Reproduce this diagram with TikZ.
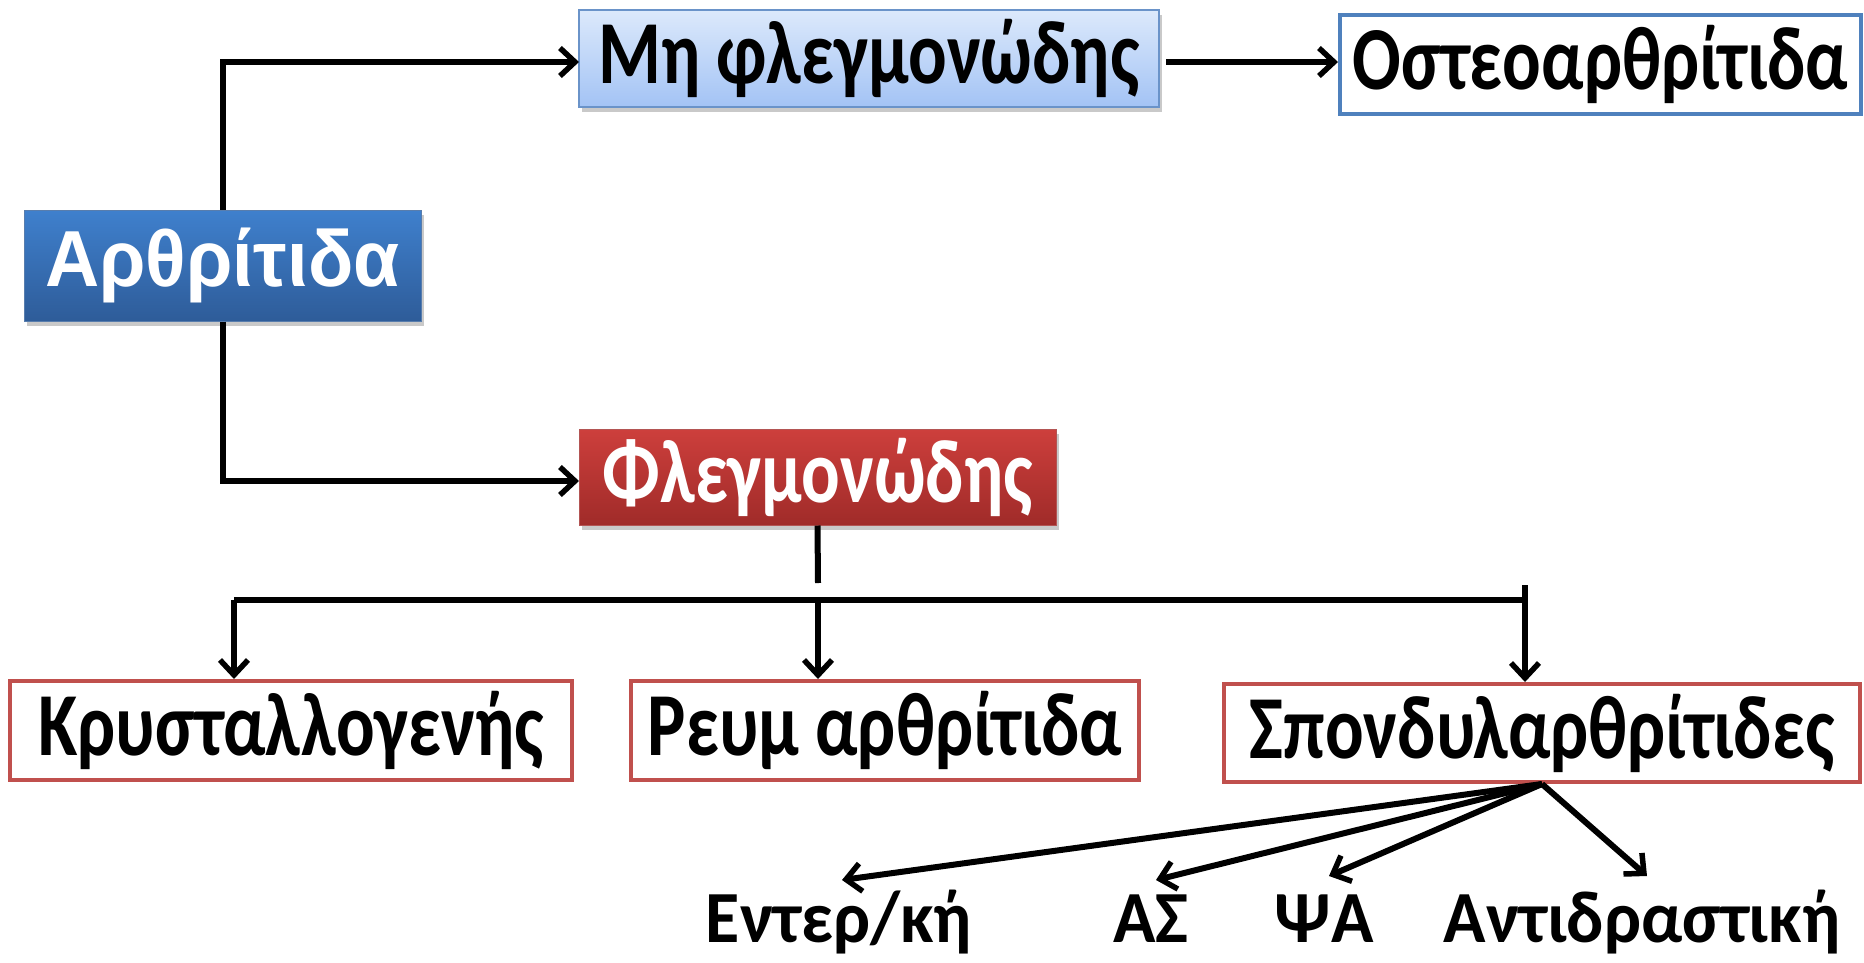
\documentclass[tikz,border=0pt]{standalone}
\usepackage{fontspec}
\setmainfont{Carlito}
\newfontfamily\arialf{Liberation Sans}
\usetikzlibrary{arrows.meta,shadows}
\definecolor{bluetop}{HTML}{3F80CD}
\definecolor{bluebot}{HTML}{2E5C99}
\definecolor{ltop}{HTML}{DCE9FB}
\definecolor{lbot}{HTML}{A3C3F5}
\definecolor{lborder}{HTML}{6A93C9}
\definecolor{redtop}{HTML}{CD3F3C}
\definecolor{redbot}{HTML}{A02B29}
\definecolor{redborder}{HTML}{C0504D}
\definecolor{blueborder}{HTML}{4F81BD}
\newcommand{\tallt}[1]{\scalebox{1}[1.25]{#1}}
\newcommand{\lblt}[1]{\scalebox{1}[1.05]{#1}}
\tikzset{
  conn/.style={line width=6pt, -{Straight Barb[length=15pt,width=28pt,line width=5.5pt]}},
  plain/.style={line width=6pt},
  shad/.style={drop shadow={shadow xshift=3pt, shadow yshift=-5pt, opacity=0.35, fill=black!60}},
  boxtxt/.style={font=\bfseries\fontsize{72}{78}\selectfont, inner sep=0pt},
  redbox/.style={boxtxt, draw=redborder, line width=4pt, fill=white},
  lbl/.style={font=\bfseries\fontsize{70}{78}\selectfont, inner sep=0pt, anchor=base}
}
\begin{document}
\begin{tikzpicture}[x=1pt,y=-1pt]
\useasboundingbox[fill=white] (0,0) rectangle (1864,962);
% boxes
\node[shad, top color=bluetop, bottom color=bluebot, draw=bluebot!80, line width=1pt,
  minimum width=397pt, minimum height=111pt, inner sep=0pt,
  font=\arialf\bfseries\fontsize{75}{80}\selectfont, text=white] (arth) at (222.5,265.5) {\scalebox{1}[1.06]{Αρθρίτιδα}};
\node[shad, boxtxt, top color=ltop, bottom color=lbot, draw=lborder, line width=1.5pt,
  minimum width=580pt, minimum height=97pt] (mh) at (869,58.5) {\tallt{Μη φλεγμονώδης}};
\node[boxtxt, draw=blueborder, line width=4pt, fill=white,
  minimum width=521pt, minimum height=99pt] (osteo) at (1600.5,64.5) {\tallt{Οστεοαρθρίτιδα}};
\node[shad, boxtxt, top color=redtop, bottom color=redbot, draw=redbot!80, line width=1pt,
  minimum width=477pt, minimum height=96pt, text=white] (fleg) at (817.5,477) {\tallt{Φλεγμονώδης}};
\node[redbox, minimum width=562pt, minimum height=99pt] (krys) at (291,730.5) {\tallt{Κρυσταλλογενής}};
\node[redbox, minimum width=508pt, minimum height=99pt] (reum) at (885,730.5) {\tallt{Ρευμ αρθρίτιδα}};
\node[redbox, minimum width=636pt, minimum height=98pt] (spond) at (1542,733) {\tallt{Σπονδυλαρθρίτιδες}};
% labels
\node[lbl] (ent) at (839,942) {\lblt{Εντερ/κή}};
\node[lbl] (as) at (1151,942) {\lblt{ΑΣ}};
\node[lbl] (psa) at (1324,942) {\lblt{ΨΑ}};
\node[lbl] (antid) at (1642,942) {\lblt{Αντιδραστική}};
% connectors top
\coordinate (mhl) at (579,62);
\coordinate (mhr) at (1166,62);
\coordinate (fll) at (579,481);
\draw[conn] (arth.north) |- (mhl);
\draw[conn] (arth.south) |- (fll);
\draw[conn] (mhr) -- (mhr -| osteo.west);
% tree below Flegmonodis
\coordinate (fdown) at (818,583);
\draw[plain] (fleg.south) -- (fdown);
\coordinate (b1) at (234,600);
\coordinate (b2) at (818,600);
\coordinate (b3) at (1525,600);
\coordinate (b3t) at (1525,585);
\draw[plain] (b1) -- (b3);
\draw[plain] (b3t) -- (b3);
\draw[conn] (b1) -- (b1 |- krys.north);
\draw[conn] (b2) -- (b2 |- reum.north);
\draw[conn] (b3) -- (b3 |- spond.north);
% fan
\coordinate (t1) at (842,880);
\coordinate (t2) at (1156,880);
\coordinate (t3) at (1329,876);
\coordinate (t4) at (1647,876);
\draw[conn] (spond.south) -- (t1);
\draw[conn] (spond.south) -- (t2);
\draw[conn] (spond.south) -- (t3);
\draw[conn] (spond.south) -- (t4);
\end{tikzpicture}
\end{document}
